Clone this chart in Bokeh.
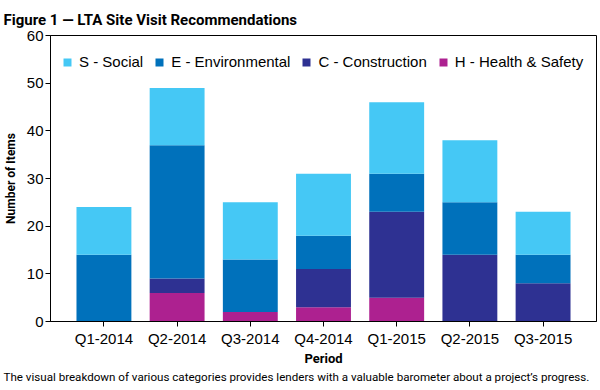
from bokeh.plotting import figure
from bokeh.models import FactorRange, Range1d, Legend, LegendItem, Title, ColumnDataSource
from bokeh.embed import file_html
from bokeh.resources import INLINE

periods = ["Q1-2014", "Q2-2014", "Q3-2014", "Q4-2014", "Q1-2015", "Q2-2015", "Q3-2015"]
health_safety = [0, 6, 2, 3, 5, 0, 0]
construction = [0, 3, 0, 8, 18, 14, 8]
environmental = [14, 28, 11, 7, 8, 11, 6]
social = [10, 12, 12, 13, 15, 13, 9]
series_keys = ["H", "C", "E", "S"]
series_names = ["H - Health & Safety", "C - Construction", "E - Environmental", "S - Social"]
colors = ["#AD2190", "#2E3192", "#0071BB", "#45C8F5"]
y_ticks = [0, 10, 20, 30, 40, 50, 60]

title_text = "Figure 1 \u2014 LTA Site Visit Recommendations"
caption_text = ("The visual breakdown of various categories provides lenders with a "
                "valuable barometer about a project\u2019s progress.")

NARROW = "Roboto"
REG = "Liberation Sans"

source = ColumnDataSource(dict(period=periods, H=health_safety, C=construction,
                               E=environmental, S=social))

FL, FT, FR, FB = 50, 35, 4, 69
p = figure(x_range=FactorRange(*periods, range_padding=0.23, range_padding_units="absolute"),
           y_range=Range1d(0, 60), width=600, height=390,
           output_backend="svg", toolbar_location=None,
           min_border_left=FL, min_border_right=FR, min_border_top=FT, min_border_bottom=FB)

rs = p.vbar_stack(series_keys, x="period", width=0.75, fill_color=colors,
                  line_color=None, source=source)

items = [LegendItem(label=series_names[i], renderers=[rs[i]]) for i in [3, 2, 1, 0]]
legend = Legend(items=items, orientation="horizontal", location=(12, 251),
                border_line_color=None, background_fill_alpha=0,
                glyph_width=10, glyph_height=10, label_standoff=7, spacing=11,
                padding=6, margin=0,
                label_text_font=REG, label_text_font_size="15px",
                label_text_color="#000000")
p.add_layout(legend)

p.xgrid.visible = False
p.ygrid.visible = False
p.outline_line_color = "black"
p.outline_line_alpha = 1.0
p.outline_line_width = 1

for ax in (p.xaxis[0], p.yaxis[0]):
    ax.axis_line_color = "black"
    ax.major_tick_line_color = "black"
    ax.minor_tick_line_color = None
    ax.major_tick_in = 0
    ax.major_tick_out = 5
    ax.major_label_text_font = REG
    ax.major_label_text_font_size = "15px"
    ax.major_label_text_color = "black"
    ax.axis_label_text_font = NARROW
    ax.axis_label_text_font_style = "bold"
    ax.axis_label_text_color = "black"

p.yaxis.ticker = y_ticks
p.yaxis.axis_label = "Number of Items"
p.yaxis.axis_label_text_font_size = "12px"
p.yaxis.major_label_standoff = 2
p.yaxis.axis_label_standoff = 6

p.xaxis.axis_label = "Period"
p.xaxis.axis_label_text_font_size = "13px"
p.xaxis.major_label_standoff = 3
p.xaxis.axis_label_standoff = 1

p.title.text = title_text
p.title.align = "left"
p.title.vertical_align = "top"
p.title.offset = -47
p.title.text_font = NARROW
p.title.text_font_style = "bold"
p.title.text_font_size = "15px"
p.title.text_color = "black"
p.title.standoff = 10

cap = Title(text=caption_text, align="left", vertical_align="middle", offset=-47,
            text_font=NARROW, text_font_style="normal", text_font_size="11.6px",
            text_color="black", standoff=0)
p.add_layout(cap, "below")

open("out.html", "w").write(file_html(p, INLINE))
